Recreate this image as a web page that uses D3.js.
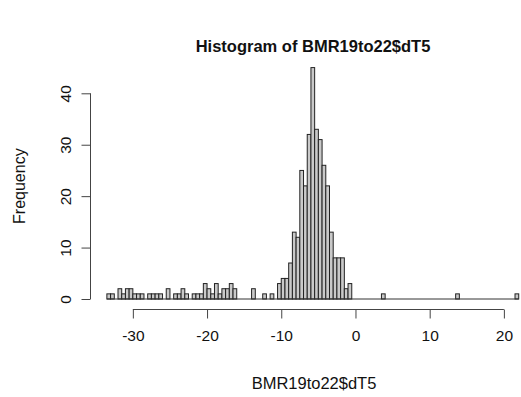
<!DOCTYPE html>
<html>
<head>
<meta charset="utf-8">
<script src="https://cdn.jsdelivr.net/npm/d3@7"></script>
<style>
  html, body { margin: 0; padding: 0; background: #fff; }
  svg { display: block; font-family: "Liberation Sans", Arial, Helvetica, sans-serif; }
</style>
</head>
<body>
<svg id="chart" width="521" height="397"></svg>
<script>
// Histogram bins: left edge of the first bin, bin width, and counts per bin
const binStart = -33.5;
const binWidth = 0.5;
const counts = [
  1, 1, 0, 2, 1, 2, 2, 1, 1, 1,        // -33.5 .. -29
  0, 1, 1, 1, 1, 0, 2, 0, 1, 1,        // -28.5 .. -24
  2, 1, 0, 1, 1, 1, 3, 2, 1, 3,        // -23.5 .. -19
  1, 2, 2, 3, 2, 0, 0, 0, 0, 2,        // -18.5 .. -14
  0, 0, 1, 0, 1, 0, 3, 4, 4, 7,        // -13.5 .. -9
  13, 12, 25, 22, 32, 45, 33, 31, 26, 22, // -8.5 .. -4
  13, 8, 8, 8, 2, 3, 0, 0, 0, 0,       // -3.5 .. 1
  0, 0, 0, 0, 1, 0, 0, 0, 0, 0,        // 1.5 .. 6
  0, 0, 0, 0, 0, 0, 0, 0, 0, 0,        // 6.5 .. 11
  0, 0, 0, 0, 1, 0, 0, 0, 0, 0,        // 11.5 .. 16
  0, 0, 0, 0, 0, 0, 0, 0, 0, 0, 1      // 16.5 .. 21.5
];
const xTicks = [-30, -20, -10, 0, 10, 20];
const yTicks = [0, 10, 20, 30, 40];
const titleText = "Histogram of BMR19to22$dT5";
const xLabel = "BMR19to22$dT5";
const yLabel = "Frequency";

const bins = counts.map((c, i) => ({ x0: binStart + i * binWidth, x1: binStart + (i + 1) * binWidth, n: c }));
const binEnd = binStart + counts.length * binWidth;

const svg = d3.select("#chart");

const x = d3.scaleLinear().domain([-35.72, 24.22]).range([90.4, 535.2]);
const y = d3.scaleLinear().domain([0, 40]).range([299, 93.3]);

// bars
svg.append("g")
  .selectAll("rect")
  .data(bins.filter(d => d.n > 0))
  .join("rect")
  .attr("x", d => x(d.x0))
  .attr("y", d => y(d.n))
  .attr("width", d => x(d.x1) - x(d.x0))
  .attr("height", d => y(0) - y(d.n))
  .attr("fill", "#c9c9c9")
  .attr("stroke", "#222")
  .attr("stroke-width", 1);

// zero-height bins collapse to a line along the baseline
svg.append("line")
  .attr("x1", x(binStart)).attr("x2", x(binEnd))
  .attr("y1", y(0)).attr("y2", y(0))
  .attr("stroke", "#333").attr("stroke-width", 1);

// x axis
const axisY = 309.5;
const gx = svg.append("g")
  .attr("transform", `translate(0,${axisY})`)
  .call(d3.axisBottom(x).tickValues(xTicks).tickSize(9).tickSizeOuter(0).tickFormat(d => d < 0 ? "-" + Math.abs(d) : d));
gx.select(".domain").remove();
gx.append("line")
  .attr("x1", x(xTicks[0])).attr("x2", x(xTicks[xTicks.length - 1]))
  .attr("stroke", "#444");
gx.selectAll(".tick line").attr("stroke", "#444");
gx.selectAll(".tick text")
  .attr("fill", "#111")
  .attr("y", 20)
  .attr("font-size", 15.5);

// y axis
const axisX = 90.5;
const gy = svg.append("g")
  .attr("transform", `translate(${axisX},0)`)
  .call(d3.axisLeft(y).tickValues(yTicks).tickSize(9).tickSizeOuter(0));
gy.select(".domain").remove();
gy.append("line")
  .attr("y1", y(yTicks[0])).attr("y2", y(yTicks[yTicks.length - 1]))
  .attr("stroke", "#444");
gy.selectAll(".tick line").attr("stroke", "#444");
gy.selectAll(".tick text")
  .attr("fill", "#111")
  .attr("font-size", 15.5)
  .attr("x", null).attr("dy", null)
  .attr("text-anchor", "middle")
  .attr("transform", "translate(-25,0) rotate(-90)")
  .attr("y", 0).attr("dy", "0.35em");

// title and axis labels
svg.append("text")
  .attr("x", 313).attr("y", 52)
  .attr("text-anchor", "middle")
  .attr("font-weight", "bold")
  .attr("font-size", 16.5)
  .attr("fill", "#111")
  .text(titleText);

svg.append("text")
  .attr("x", 314).attr("y", 389)
  .attr("text-anchor", "middle")
  .attr("font-size", 16.5)
  .attr("fill", "#111")
  .text(xLabel);

svg.append("text")
  .attr("transform", `translate(25,${(y(0) + y(40)) / 2 - 10}) rotate(-90)`)
  .attr("text-anchor", "middle")
  .attr("font-size", 16)
  .attr("fill", "#111")
  .text(yLabel);
</script>
</body>
</html>
